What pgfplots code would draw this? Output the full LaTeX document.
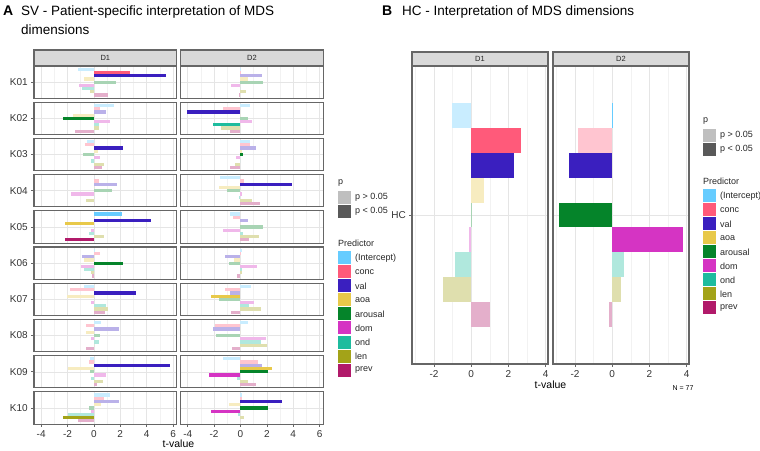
\documentclass[border=0pt]{standalone}
\usepackage{fontspec}
\setmainfont{Liberation Sans}
\usepackage{pgfplots}
\pgfplotsset{compat=1.18}
\definecolor{cI}{HTML}{66CCFF}
\definecolor{cC}{HTML}{FF5A7A}
\definecolor{cV}{HTML}{3A1FBF}
\definecolor{cA}{HTML}{E8C94A}
\definecolor{cR}{HTML}{05842A}
\definecolor{cD}{HTML}{D534C3}
\definecolor{cO}{HTML}{1EBC9E}
\definecolor{cL}{HTML}{A3A318}
\definecolor{cP}{HTML}{B11A6A}
\newcommand\lt{35}
\pgfplotsset{
 bb/.style={xbar, bar width=0.1, bar shift=0pt, draw=none},
 S1/.style={bb, fill=cI}, L1/.style={bb, fill=cI!\lt!white},
 S2/.style={bb, fill=cC}, L2/.style={bb, fill=cC!\lt!white},
 S3/.style={bb, fill=cV}, L3/.style={bb, fill=cV!\lt!white},
 S4/.style={bb, fill=cA}, L4/.style={bb, fill=cA!\lt!white},
 S5/.style={bb, fill=cR}, L5/.style={bb, fill=cR!\lt!white},
 S6/.style={bb, fill=cD}, L6/.style={bb, fill=cD!\lt!white},
 S7/.style={bb, fill=cO}, L7/.style={bb, fill=cO!\lt!white},
 S8/.style={bb, fill=cL}, L8/.style={bb, fill=cL!\lt!white},
 S9/.style={bb, fill=cP}, L9/.style={bb, fill=cP!\lt!white},
 panel/.style={
  anchor=south west, scale only axis,
  grid=both,
  major grid style={black!10, line width=0.5pt},
  minor grid style={black!5, line width=0.4pt},
  axis line style={black!60, line width=1.1pt},
  tick align=outside, tick pos=left,
  major tick length=2.7pt, minor tick length=0pt,
  every tick/.style={black!60, line width=0.6pt},
  tick label style={font=\fontsize{10}{12}\selectfont, text=black!80},
  ytick={1},
 },
 Abase/.style={panel, width=142.6pt, height=32.3pt,
  xmin=-4.54, xmax=6.27, ymin=0.5, ymax=1.5,
  xtick={-4,-2,0,2,4,6}, minor xtick={-3,-1,1,3,5},
  xticklabels={-4,-2,0,2,4,6}},
 Bbase/.style={panel, width=136pt, height=298pt,
  xmin=-3.18, xmax=4.13, ymin=0.4, ymax=1.6,
  xtick={-2,0,2,4}, minor xtick={-3,-1,1,3},
  xticklabels={-2,0,2,4}},
 noX/.style={xticklabels={}, xtick style={draw=none}},
 noY/.style={yticklabels={}, ytick style={draw=none}},
}
\newcommand\Bars[1]{%
 \foreach \v/\s [count=\k] in {#1}{%
  \pgfmathsetmacro\yy{1.5-0.1*\k}%
  \edef\tmp{\noexpand\addplot[\s\k] coordinates {(\v,\yy)};}\tmp}}
\newcommand\Arow[5]{%
 \begin{axis}[Abase, at={(34pt,#1pt)}, yticklabels={#2}, #5]
 \Bars{#3}
 \end{axis}
 \begin{axis}[Abase, at={(180.6pt,#1pt)}, noY, #5]
 \Bars{#4}
 \end{axis}}
\newcommand\Leg[2]{%
 \begin{scope}[shift={(#1pt,#2pt)}, x=1pt, y=1pt, every node/.style={font=\fontsize{9}{11}\selectfont, text=black!85}]
 \node[anchor=west, inner sep=0pt] at (0,0) {p};
 \fill[black!25] (0,-21) rectangle (13,-8);
 \node[anchor=west, inner sep=0pt] at (17,-14.5) {p > 0.05};
 \fill[black!65] (0,-35) rectangle (13,-22);
 \node[anchor=west, inner sep=0pt] at (17,-28.5) {p < 0.05};
 \node[anchor=west, inner sep=0pt] at (0,-60) {Predictor};
 \foreach \c/\t [count=\k] in {cI/(Intercept),cC/conc,cV/val,cA/aoa,cR/arousal,cD/dom,cO/ond,cL/len,cP/prev}{
   \fill[\c] (0,{-75-14*(\k-1)-6.5}) rectangle (13,{-75-14*(\k-1)+6.5});
   \node[anchor=west, inner sep=0pt] at (17,{-75-14*(\k-1)}) {\t};
 }
 \end{scope}}
\newcommand\Strip[5]{% x1 y1 x2 y2 text
 \draw[fill=black!15, draw=black!60, line width=1.1pt] (#1pt,#2pt) rectangle (#3pt,#4pt);
 \node[font=\fontsize{7.5}{9}\selectfont, text=black!85] at ({(#1+#3)/2*1pt},{(#2+#4)/2*1pt}) {#5};}

\begin{document}
\begin{tikzpicture}
\path[use as bounding box] (0pt,0pt) rectangle (760pt,450pt);
% Titles
\node[anchor=base west, inner sep=0pt, font=\bfseries\fontsize{14}{16}\selectfont] at (3pt,434pt) {A};
\node[anchor=base west, inner sep=0pt, font=\fontsize{13.5}{16}\selectfont] at (21pt,434pt) {SV - Patient-specific interpretation of MDS};
\node[anchor=base west, inner sep=0pt, font=\fontsize{13.5}{16}\selectfont] at (21pt,415pt) {dimensions};
\node[anchor=base west, inner sep=0pt, font=\bfseries\fontsize{14}{16}\selectfont] at (382pt,434pt) {B};
\node[anchor=base west, inner sep=0pt, font=\fontsize{13.5}{16}\selectfont] at (402pt,434pt) {HC - Interpretation of MDS dimensions};

% Panel A
\Arow{351.7}{K01}{-1.24/L,2.73/S,5.5/S,-0.78/L,1.67/L,-1.1/L,-0.93/L,-0.28/L,1.1/L}{0.03/L,0.05/L,1.62/L,0.6/L,1.7/L,-0.73/L,0/L,0.45/L,-0.1/L}{noX}
\Arow{315.5}{K02}{1.5/L,0.45/L,0.95/L,-1.6/L,-2.35/S,1.2/L,0.4/L,0.35/L,-1.45/L}{0.75/L,-1.3/L,-4.05/S,0/L,0.58/L,0.86/L,-2.1/S,-1.44/L,-0.76/L}{noX}
\Arow{279.3}{K03}{-0.53/L,-0.68/L,2.17/S,0.28/L,-0.83/L,0.43/L,-0.2/L,0.78/L,0.58/L}{0.7/L,0.7/L,1.14/L,0.15/L,0.18/S,-0.33/L,0/L,-0.45/L,-0.76/L}{noX}
\Arow{243.1}{K04}{0/L,0.4/L,1.74/L,0/L,1.41/L,-1.77/L,0/L,-0.6/L,0/L}{-1.57/L,0.3/L,3.94/S,-1.64/L,-1.0/L,0.13/L,-0.1/L,0.88/L,1.5/L}{noX}
\Arow{206.9}{K05}{2.13/S,0/L,4.34/S,-2.17/S,0/L,-0.25/L,-0.4/L,0.8/L,-2.17/S}{-0.76/L,-0.58/L,0.6/L,0/L,1.72/L,-1.3/L,0.18/L,1.44/L,0.68/L}{noX}
\Arow{170.7}{K06}{0.1/L,0.5/L,-0.9/L,-0.73/L,2.17/S,-1.0/L,-0.73/L,-0.2/L,-0.15/L}{0.15/L,-0.05/L,-1.16/L,-0.5/L,-0.88/L,1.26/L,0.1/L,0.08/L,-0.25/L}{noX}
\Arow{134.5}{K07}{-0.73/L,-1.82/L,3.23/S,-2.05/L,0/L,-0.25/L,0.93/L,1.06/L,0.83/L}{0.8/L,-1.16/L,-0.8/L,-2.25/S,-1.6/L,1.06/L,0.63/L,1.57/L,-0.73/L}{noX}
\Arow{98.3}{K08}{0.55/L,-0.63/L,1.92/L,-0.6/L,0.5/L,-0.25/L,0.35/L,0/L,-0.58/L}{0.6/L,-1.94/L,-2.07/L,0/L,-1.87/L,1.97/L,1.57/L,2.02/L,-0.63/L}{noX}
\Arow{62.1}{K09}{-0.28/L,-0.35/L,5.78/S,-1.94/L,-0.33/L,0.93/L,-0.25/L,0.68/L,0.25/L}{-1.3/L,1.29/L,1.64/L,2.37/S,2.12/S,-2.42/S,-0.25/L,0.58/L,1.19/L}{noX}
\Arow{25.9}{K10}{1.21/L,0.8/L,1.92/L,0.55/L,-0.4/L,-0.23/L,-1.97/L,-2.35/S,-1.19/L}{0.08/L,0.1/L,3.16/S,-0.9/L,2.07/S,-2.2/S,-0.2/L,0.25/L,0/L}{}
\Strip{34}{384}{176.6}{400}{D1}
\Strip{180.6}{384}{323.2}{400}{D2}
\node[font=\fontsize{10.5}{12}\selectfont] at (178.5pt,6pt) {t-value};
\Leg{338}{267}

% Panel B
\begin{axis}[Bbase, at={(412pt,86pt)}, yticklabels={HC}]
\Bars{-1.04/L,2.67/S,2.31/S,0.7/L,-0.03/L,-0.13/L,-0.86/L,-1.49/L,1.02/L}
\end{axis}
\begin{axis}[Bbase, at={(553pt,86pt)}, noY]
\Bars{0.06/S,-1.81/L,-2.3/S,0/L,-2.85/S,3.8/S,0.66/L,0.45/L,-0.15/L}
\end{axis}
\Strip{412}{384}{548}{398}{D1}
\Strip{553}{384}{689}{398}{D2}
\node[font=\fontsize{10.5}{12}\selectfont] at (550.5pt,65pt) {t-value};
\node[font=\fontsize{7}{8}\selectfont] at (683pt,62pt) {N = 77};
\Leg{703}{329}
\end{tikzpicture}
\end{document}
